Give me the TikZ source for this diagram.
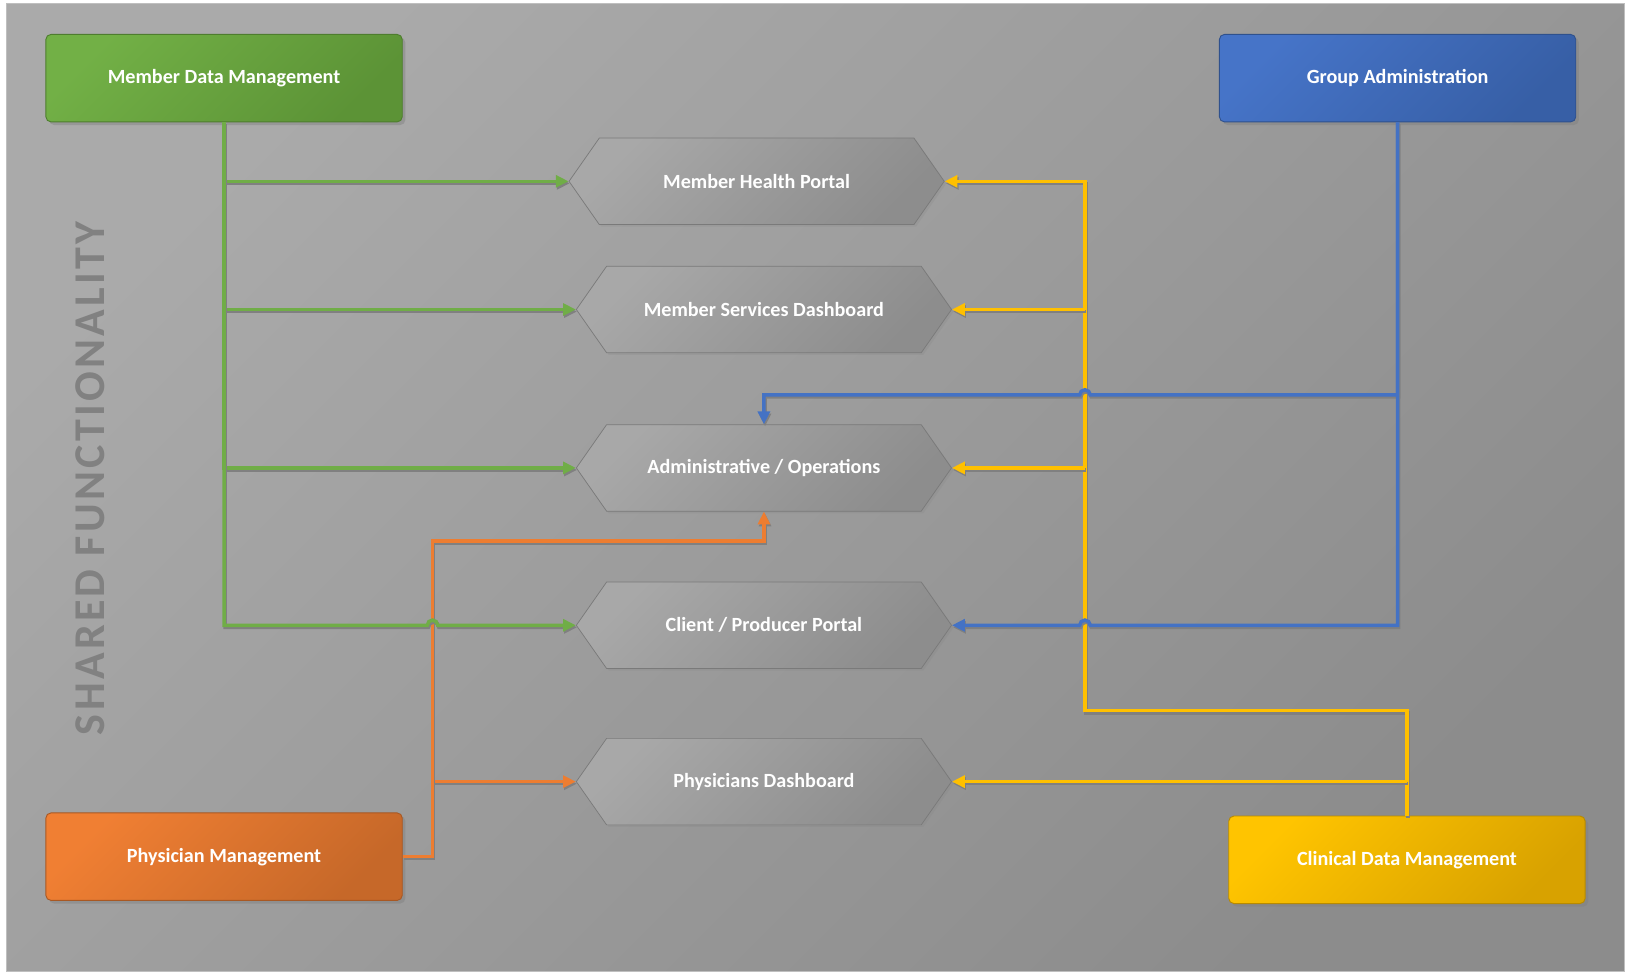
\documentclass[tikz,border=0pt]{standalone}
\usepackage{fontspec}
\setmainfont{Carlito}
\usepackage{tikz}
\usetikzlibrary{
    calc,                   % Offsets for the line hops.
    arrows.meta,            % Triangle arrow tips.
    positioning,            % Relative positioning of nodes.
    shapes.symbols,         % Signal shape for the portals.
    shadows                 % Drop shadows under the modules.
}
\definecolor{bgTop}{HTML}{AAAAAA}
\definecolor{bgBot}{HTML}{8C8C8C}
\definecolor{frameLine}{HTML}{BFBFBF}
\definecolor{sharedText}{HTML}{818181}
\definecolor{hexTop}{HTML}{A8A8A8}
\definecolor{hexBot}{HTML}{8D8D8D}
\definecolor{hexLine}{HTML}{7A7A7A}
\definecolor{greenTop}{HTML}{72B046}
\definecolor{greenBot}{HTML}{5C9336}
\definecolor{blueTop}{HTML}{4674C8}
\definecolor{blueBot}{HTML}{375FA6}
\definecolor{orangeTop}{HTML}{F07F33}
\definecolor{orangeBot}{HTML}{C66829}
\definecolor{yellowTop}{HTML}{FFC400}
\definecolor{yellowBot}{HTML}{D8A200}
\definecolor{lineGreen}{HTML}{70AD47}
\definecolor{lineBlue}{HTML}{4472C4}
\definecolor{lineOrange}{HTML}{ED7D31}
\definecolor{lineYellow}{HTML}{FFC000}

\begin{document}
\begin{tikzpicture}[>={Triangle[length=7pt,width=6.5pt]}, line width=1.9pt,
    module/.style 2 args={rectangle, rounded corners=0.1cm,
        minimum width=6.84cm, minimum height=1.68cm,
        top color=#1, bottom color=#2, shading angle=45,
        draw=#2!85!black, line width=0.5pt, text=white,
        font=\fontsize{11}{13}\selectfont\bfseries,
        drop shadow={shadow xshift=0.6mm, shadow yshift=-0.6mm, opacity=0.45}},
    portal/.style={signal, signal to=west and east, signal pointer angle=110,
        minimum width=7.2cm, minimum height=1.66cm, inner sep=0pt,
        top color=hexTop, bottom color=hexBot, shading angle=45,
        draw=hexLine, line width=0.4pt, text=white,
        font=\fontsize{11}{13}\selectfont\bfseries,
        drop shadow={shadow xshift=0.4mm, shadow yshift=-0.4mm, opacity=0.2}},
    link/.style={->, line width=1.9pt,
        preaction={draw=black!50, transform canvas={shift={(0.6pt,-1.1pt)}}}},
]
    \useasboundingbox (0,0) rectangle (31.30,18.80);
    \fill[white] (0,0) rectangle (31.30,18.80);
    \shade[top color=bgTop, bottom color=bgBot, shading angle=45]
        (0.12,0.16) rectangle (31.18,18.74);
    \draw[frameLine, line width=0.6pt] (0.12,0.16) rectangle (31.18,18.74);

    \node[rotate=90, text=sharedText,
        font=\fontsize{24}{28}\selectfont\bfseries\addfontfeature{LetterSpace=7.5}]
        (shared) at (1.73,9.62) {SHARED FUNCTIONALITY};

    % Source modules in the corners.
    \node[module={greenTop}{greenBot}] (mdm) at (4.30,17.30) {Member Data Management};
    \node[module={blueTop}{blueBot}] (ga) at (26.82,17.30) {Group Administration};
    \node[module={orangeTop}{orangeBot}] (pm) at (4.30,2.36) {Physician Management};
    \node[module={yellowTop}{yellowBot}] (cdm) at (27.00,2.30) {Clinical Data Management};

    % Portals in the middle column.
    \node[portal] (mhp) at (14.52,15.32) {Member Health Portal};
    \node[portal] (msd) at (14.66,12.86) {Member Services Dashboard};
    \node[portal] (ao) at (14.66,9.82) {Administrative / Operations};
    \node[portal] (cpp) at (14.66,6.80) {Client / Producer Portal};
    \node[portal] (phd) at (14.66,3.80) {Physicians Dashboard};

    % Where the trunks turn and cross.
    \coordinate (ot) at (8.30,8.42);
    \coordinate (yt) at (20.82,5.16);
    \coordinate (ghop) at (8.30,6.80);
    \coordinate (bup) at (20.82,11.22);
    \coordinate (blow) at (20.82,6.80);

    % Clinical data.
    \draw[link, lineYellow] (cdm.north) |- (yt) |- (mhp.east);
    \draw[link, lineYellow] (yt |- msd.east) -- (msd.east);
    \draw[link, lineYellow] (yt |- ao.east) -- (ao.east);
    \draw[link, lineYellow] (cdm.north |- phd.east) -- (phd.east);

    % Group administration, hopping over the yellow trunk.
    \draw[link, lineBlue] (ga.south) |- ([xshift=0.1cm]bup)
        arc[start angle=0, end angle=180, radius=0.1cm] -| (ao.north);
    \draw[link, lineBlue] (ga.south) |- ([xshift=0.1cm]blow)
        arc[start angle=0, end angle=180, radius=0.1cm] -- (cpp.east);

    % Physician management.
    \draw[link, lineOrange] (ot |- phd.west) -- (phd.west);
    \draw[link, lineOrange] (pm.east) -| (ot) -| (ao.south);

    % Member data, hopping over the orange trunk.
    \draw[link, lineGreen] (mdm.south) |- (mhp.west);
    \draw[link, lineGreen] (mdm.south) |- (msd.west);
    \draw[link, lineGreen] (mdm.south) |- (ao.west);
    \draw[link, lineGreen] (mdm.south) |- ([xshift=-0.1cm]ghop)
        arc[start angle=180, end angle=0, radius=0.1cm] -- (cpp.west);
\end{tikzpicture}
\end{document}
